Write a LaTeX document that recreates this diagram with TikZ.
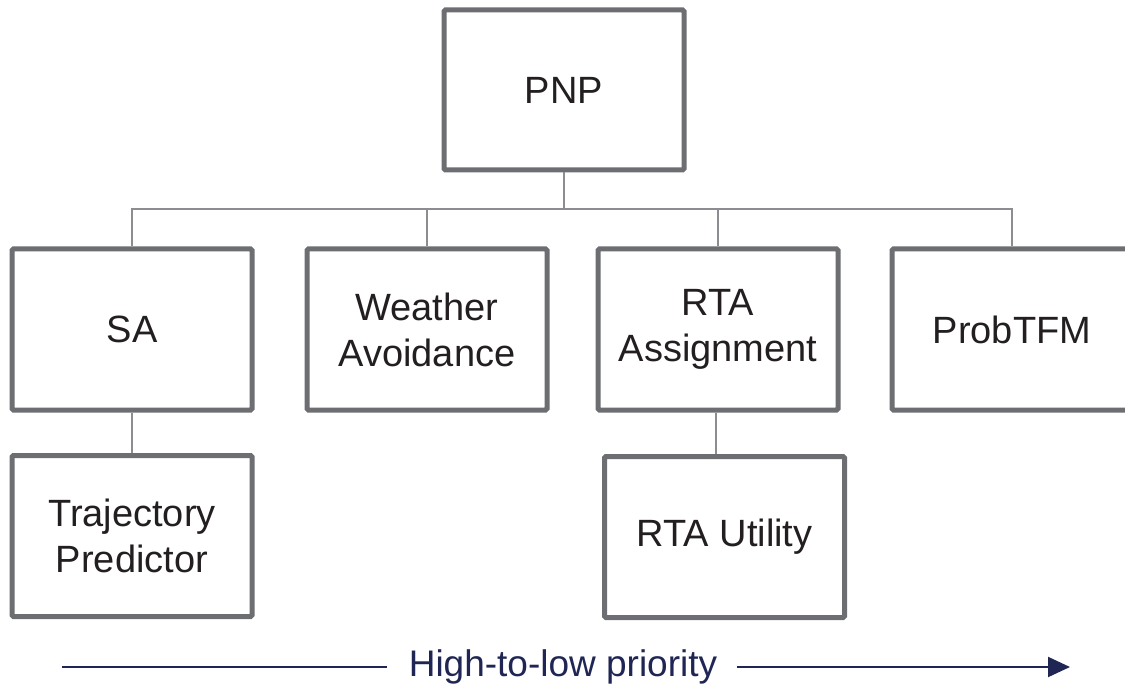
\documentclass[tikz,border=0pt]{standalone}
\usepackage{fontspec}
\setmainfont{Liberation Sans}
\usetikzlibrary{arrows.meta}
\definecolor{boxgray}{HTML}{6D6E71}
\definecolor{linegray}{HTML}{8C8D90}
\definecolor{navy}{HTML}{1F2654}
\definecolor{txt}{HTML}{231F20}
\begin{document}
\begin{tikzpicture}[x=1pt,y=-1pt,
  box/.style={draw=boxgray,line width=5pt,rounded corners=1.5pt,fill=white,
    minimum width=240pt,minimum height=161pt,inner sep=0pt,align=center,
    text=txt,font=\fontsize{38}{46}\selectfont},
  conn/.style={draw=linegray,line width=2pt},
  prioarrow/.style={draw=navy,line width=2pt}]
\useasboundingbox (0,0) rectangle (1125,687);
\clip (0,0) rectangle (1125,687);
\node[box,minimum height=160pt] (pnp) at (564,90) {PNP};
\node[box] (sa) at (132,329.5) {SA};
\node[box] (wa) at (427,329.5) {Weather\\Avoidance};
\node[box] (rta) at (718,329.5) {RTA\\Assignment};
\node[box] (prob) at (1012,329.5) {ProbTFM};
\node[box] (traj) at (132,536) {Trajectory\\Predictor};
\node[box] (util) at (724.5,537) {RTA Utility};
\coordinate (bus) at (564,209);
\draw[conn] (pnp.south) -- (bus);
\draw[conn] (bus) -| (sa.north);
\draw[conn] (bus) -| (wa.north);
\draw[conn] (bus) -| (rta.north);
\draw[conn] (bus) -| (prob.north);
\draw[conn] (sa.south) -- (traj.north);
\draw[conn] ([xshift=-2pt]rta.south) -- ([xshift=-2pt]rta.south |- util.north);
\node[text=navy,font=\fontsize{37}{44}\selectfont,inner sep=0pt] (prio) at (563,667) {High-to-low priority};
\coordinate (arrL) at (62,667);
\coordinate (arrR) at (1070,667);
\draw[prioarrow] (arrL) -- ([xshift=-22pt]prio.west);
\draw[prioarrow,-{Triangle[length=22pt,width=20pt]}] ([xshift=20pt]prio.east) -- (arrR);
\end{tikzpicture}
\end{document}
